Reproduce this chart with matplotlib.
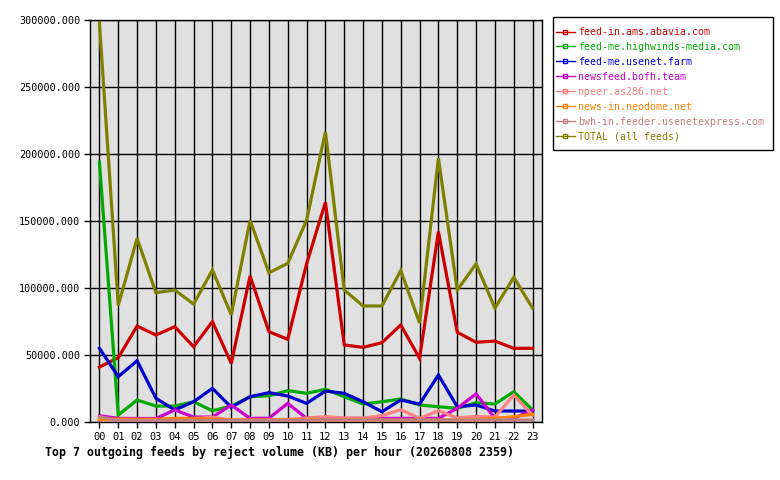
import matplotlib
matplotlib.use("Agg")
import matplotlib.pyplot as plt
from matplotlib.ticker import FuncFormatter
from matplotlib.patches import Rectangle

hours = list(range(24))
hour_labels = ["%02d" % h for h in hours]

feed_names = [
    "feed-in.ams.abavia.com",
    "feed-me.highwinds-media.com",
    "feed-me.usenet.farm",
    "newsfeed.bofh.team",
    "npeer.as286.net",
    "news-in.neodome.net",
    "bwh-in.feeder.usenetexpress.com",
    "TOTAL (all feeds)",
]
feed_colors = ["#cc0000", "#00aa00", "#0000cc", "#cc00cc",
               "#ff8080", "#ff8000", "#c08080", "#808000"]

abavia = [41000, 48000, 71600, 64900, 71100, 56200, 74900, 43800, 109000, 67400, 61700, 118000,
          164000, 57500, 55700, 59200, 72400, 47500, 142000, 67000, 59500, 60400, 55000, 55000]
highwinds = [194000, 5200, 16400, 11900, 11900, 15100, 8400, 11900, 18900, 19600, 23400, 21400,
             24400, 18900, 13400, 15100, 17200, 12700, 11400, 10200, 14400, 13400, 22600, 9000]
usenetfarm = [55000, 33800, 45700, 17700, 9000, 15100, 25100, 11000, 18900, 21900, 19400, 13900,
              23100, 21400, 15100, 7700, 16400, 13400, 35100, 11400, 12700, 8200, 8200, 8200]
bofh = [4700, 2700, 2600, 2600, 9000, 3700, 3700, 12700, 2700, 2800, 13900, 2700,
        2700, 2700, 2700, 2700, 2700, 2700, 2700, 10200, 21000, 2800, 2700, 9000]
as286 = [1500, 1500, 1500, 1500, 1500, 2500, 3500, 1500, 1500, 1500, 1800, 3000,
         4000, 3000, 3000, 4700, 9200, 2700, 8400, 3000, 4200, 3700, 20100, 5000]
neodome = [2000, 2200, 2000, 2000, 2700, 2700, 2000, 1500, 1500, 1500, 1500, 1500,
           1500, 1500, 1500, 1500, 1500, 1500, 1500, 1500, 1500, 2700, 4000, 5700]
usenetexpress = [4000, 1200, 1100, 1100, 1100, 1100, 1100, 1100, 1100, 1100, 1100, 1100,
                 1500, 1500, 1500, 1500, 1500, 1500, 1500, 1500, 1500, 1500, 1500, 1500]
total = [298000, 87000, 137000, 96500, 98500, 88000, 113400, 80000, 150500, 111400, 118400, 150500,
         216500, 98500, 86600, 86600, 113000, 74000, 196800, 98500, 118000, 85000, 108000, 85000]

series = [abavia, highwinds, usenetfarm, bofh, as286, neodome, usenetexpress, total]

mono = "DejaVu Sans Mono"
W, H = 780, 480
fig = plt.figure(figsize=(7.8, 4.8), dpi=100)
ax = fig.add_axes([90 / W, 58 / H, 452 / W, 402 / H])
ax.set_facecolor("#e0e0e0")

handles = []
for name, col, vals in zip(feed_names, feed_colors, series):
    ax.plot(hours, vals, color=col, lw=2.3, solid_joinstyle="miter", zorder=3)
    h, = ax.plot([], [], color=col, lw=1.0, marker="s", markersize=3,
                 markerfacecolor="none", markeredgecolor=col)
    handles.append(h)

ax.set_xlim(-0.5, 23.5)
ax.set_ylim(0, 300000)
ax.set_xticks(hours)
ax.set_xticklabels(hour_labels, fontfamily=mono, fontsize=7.5)
ax.set_yticks([0, 50000, 100000, 150000, 200000, 250000, 300000])
ax.yaxis.set_major_formatter(FuncFormatter(lambda v, p: "%.3f" % v))
for lab in ax.get_yticklabels():
    lab.set_fontfamily(mono)
    lab.set_fontsize(7.3)
ax.tick_params(direction="out", length=4, width=1, color="black", pad=3)
ax.grid(True, color="black", lw=1.0, zorder=1)
ax.set_axisbelow(True)
for sp in ax.spines.values():
    sp.set_color("black")
    sp.set_linewidth(1.0)

# legend frame drawn separately
fig.patches.append(Rectangle((553 / W, 1 - 150 / H), 220 / W, 133 / H,
                             transform=fig.transFigure, facecolor="white",
                             edgecolor="black", lw=1.0, zorder=0))

leg = fig.legend(handles, feed_names, loc="upper left",
                 bbox_to_anchor=(556 / W, 1 - 27 / H),
                 prop={"family": mono, "size": 7.1}, frameon=False,
                 handlelength=1.9, handletextpad=0.3, labelspacing=0.5,
                 borderpad=0.0, borderaxespad=0.0, numpoints=1)
for txt, col in zip(leg.get_texts(), feed_colors):
    txt.set_color(col)

fig.text(45 / W, 1 - 452 / H,
         "Top 7 outgoing feeds by reject volume (KB) per hour (20260808 2359)",
         fontfamily=mono, fontsize=8.4, fontweight="bold", va="center", ha="left")

fig.savefig("out.png", dpi=100)
